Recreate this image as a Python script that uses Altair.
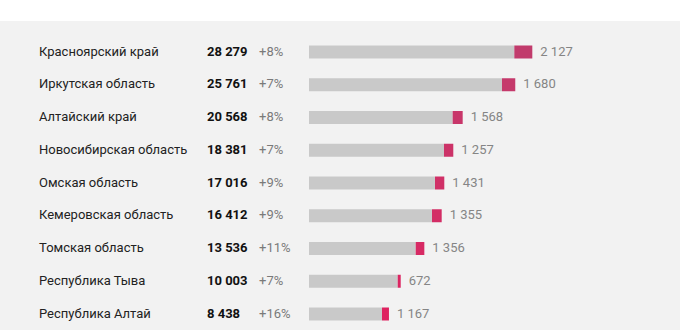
import altair as alt
import pandas as pd

regions = ["Красноярский край", "Иркутская область", "Алтайский край",
           "Новосибирская область", "Омская область", "Кемеровская область",
           "Томская область", "Республика Тыва", "Республика Алтай"]
values = ["28 279", "25 761", "20 568", "18 381", "17 016", "16 412", "13 536", "10 003", "8 438"]
pcts = ["+8%", "+7%", "+8%", "+7%", "+9%", "+9%", "+11%", "+7%", "+16%"]
increments = ["2 127", "1 680", "1 568", "1 257", "1 431", "1 355", "1 356", "672", "1 167"]
# bar lengths (grey part end, full bar end)
bar_base = [26010, 24450, 18200, 17100, 15960, 15580, 13520, 11240, 9250]
bar_total = [28290, 26130, 19470, 18280, 17140, 16810, 14610, 11620, 10130]

df = pd.DataFrame({
    "region": regions, "value": values, "pct": pcts, "inc": increments,
    "base": bar_base, "total": bar_total, "idx": list(range(len(regions))),
})

FONT = "Roboto"
W, H = 680, 330

# row i centred at 52 + 32.75*i px from the top
y = alt.Y("idx:Q", scale=alt.Scale(domain=[-1.5878, 8.4885], reverse=True, nice=False, zero=False,
                                   padding=0),
          axis=None)
xs = alt.Scale(domain=[0, 47000], range=[309, 680], zero=True, nice=False, padding=0)

base = alt.Chart(df)

bg = alt.Chart(pd.DataFrame({"a": [0]})).mark_rect(color="#f2f2f2").encode(
    x=alt.value(0), x2=alt.value(W), y=alt.value(21), y2=alt.value(H))

grey = base.mark_bar(height=13, color="#c9c9c9").encode(
    x=alt.X("base:Q", scale=xs, axis=None), x2=alt.value(309), y=y)

mag = base.mark_bar(height=13).encode(
    x=alt.X("base:Q", scale=xs, axis=None), x2="total:Q", y=y,
    color=alt.Color("idx:Q", scale=alt.Scale(domain=[0, 8], range=["#c13b6c", "#de2260"]), legend=None))

names = base.mark_text(align="left", baseline="alphabetic", dy=3.5, font=FONT, fontSize=13,
                       color="#222222").encode(x=alt.value(39), y=y, text="region:N")
vals = base.mark_text(align="left", baseline="alphabetic", dy=3.5, font=FONT, fontSize=13,
                      fontWeight="bold", color="#111111").encode(x=alt.value(207), y=y, text="value:N")
pc = base.mark_text(align="left", baseline="alphabetic", dy=3.5, font=FONT, fontSize=13,
                    color="#7a7a7a").encode(x=alt.value(259), y=y, text="pct:N")
inc = base.mark_text(align="left", baseline="alphabetic", dx=8, dy=3.5, font=FONT, fontSize=13,
                     color="#858585").encode(x=alt.X("total:Q", scale=xs, axis=None), y=y, text="inc:N")

chart = alt.layer(bg, grey, mag, names, vals, pc, inc).properties(
    width=W, height=H, background="white", padding=0,
    autosize=alt.AutoSizeParams(type="none"),
).configure_view(stroke=None)

chart.save("out.html", embed_options={"renderer": "svg", "actions": False})
